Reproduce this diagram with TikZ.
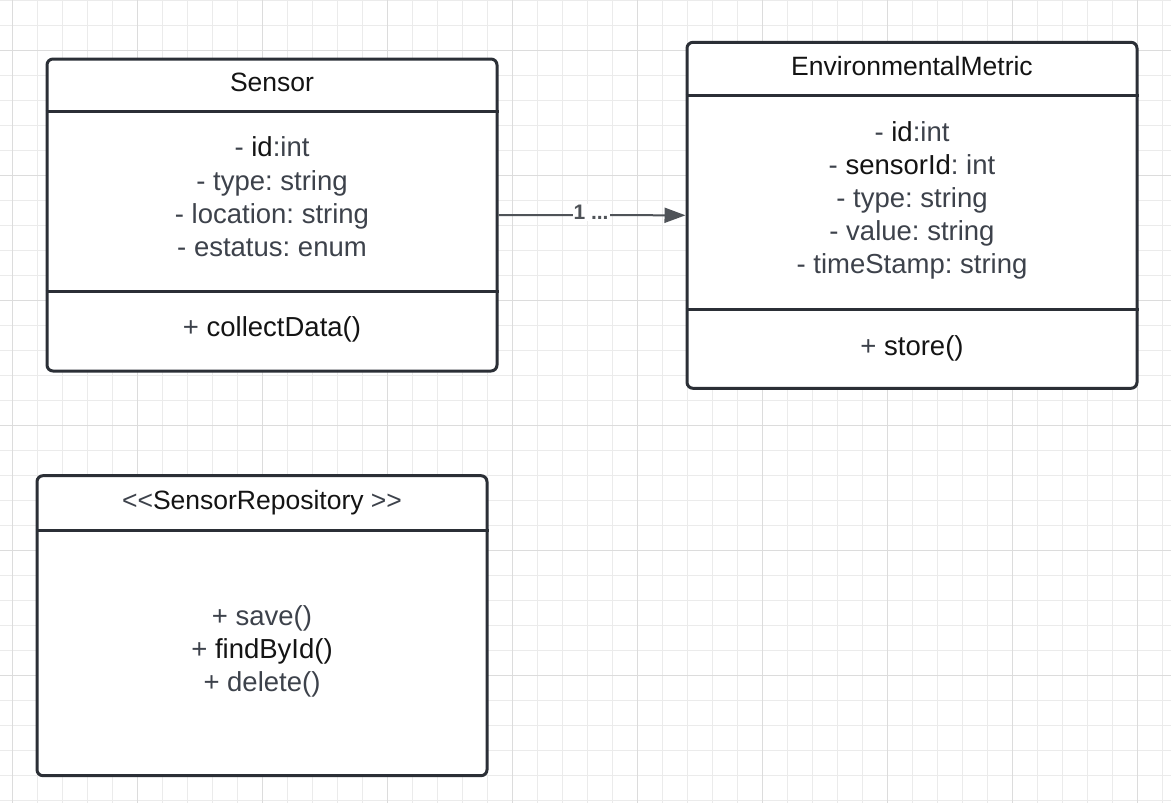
\documentclass[tikz,border=0pt]{standalone}
\usepackage{fontspec}
\setmainfont{Liberation Sans}
\usetikzlibrary{arrows.meta}
\definecolor{gridminor}{HTML}{EBEBEB}
\definecolor{gridmajor}{HTML}{DCDCDC}
\definecolor{umlborder}{HTML}{2B2F36}
\definecolor{umltext}{HTML}{3D424B}
\definecolor{umldark}{HTML}{141414}
\definecolor{assocgray}{HTML}{4F5358}
\newcommand{\hi}[1]{\textcolor{umldark}{#1}}
\frenchspacing
\begin{document}
\begin{tikzpicture}[x=1pt,y=-1pt]
				\tikzstyle{umlbox}=[draw=umlborder,line width=3pt,fill=white,rounded corners=6pt,inner sep=0pt,minimum width=450pt]
				\tikzstyle{umlrule}=[draw=umlborder,line width=3pt]
				\tikzstyle{umltitle}=[anchor=base,inner sep=0pt,text=umldark,font=\fontsize{26.5}{32}\selectfont]
				\tikzstyle{umlmember}=[anchor=base,inner sep=0pt,text=umltext,font=\fontsize{27.5}{33}\selectfont]
				\tikzstyle{assoc}=[draw=assocgray,line width=2pt,-{Triangle[length=21pt,width=15pt]}]
				\useasboundingbox (0,0) rectangle (1171,803);
				\fill[white] (0,0) rectangle (1171,803);
				% grid
				\foreach \gx in {12,37,...,1162} \draw[gridminor,line width=1pt] (\gx,0) -- (\gx,803);
				\foreach \gy in {0,25,...,800} \draw[gridminor,line width=1pt] (0,\gy) -- (1171,\gy);
				\foreach \gx in {12,137,...,1137} \draw[gridmajor,line width=1pt] (\gx,0) -- (\gx,803);
				\foreach \gy in {50,175,...,675} \draw[gridmajor,line width=1pt] (0,\gy) -- (1171,\gy);
				
				\draw 
				node[umlbox,minimum height=312pt](sensor)at(272,215){}
				node[umlbox,minimum height=346pt](metric)at(912,215.3){}
				node[umlbox,minimum height=300pt](repo)at(262,625.7){};
				
				\draw[umlrule](sensor.west |- 0,111)--(sensor.east |- 0,111);
				\draw[umlrule](sensor.west |- 0,291)--(sensor.east |- 0,291);
				\draw[umlrule](metric.west |- 0,95)--(metric.east |- 0,95);
				\draw[umlrule](metric.west |- 0,309)--(metric.east |- 0,309);
				\draw[umlrule](repo.west |- 0,530)--(repo.east |- 0,530);
				
				\draw 
				node[umltitle](sensorTitle)at(272,91){Sensor}
				node[umltitle](metricTitle)at(912,75){EnvironmentalMetric}
				node[umltitle](repoTitle)at(262,509){\textcolor{umltext}{<{}<}SensorRepository \textcolor{umltext}{>{}>}};
				
				\foreach \t [count=\i] in {{- \hi{id}:int},{- type: string},{- location: string},{- estatus: enum}}
				\node[umlmember](sensorAttr\i)at(272,{156.7+33.3*(\i-1)}){\t};
				\node[umlmember](sensorOp)at(272,336.7){+ \hi{collectData()}};
				
				\foreach \t [count=\i] in {{- \hi{id}:int},{- \hi{sensorId}: int},{- type: string},{- value: string},{- timeStamp: string}}
				\node[umlmember](metricAttr\i)at(912,{141+33.1*(\i-1)}){\t};
				\node[umlmember](metricOp)at(912,355){+ \hi{store()}};
				
				\foreach \t [count=\i] in {{+ save()},{+ \hi{findById()}},{+ delete()}}
				\node[umlmember](repoOp\i)at(262,{625+33.3*(\i-1)}){\t};
				
				\draw[assoc](sensor.east)--(metric.west) node[pos=.495,fill=white,inner sep=1pt,yshift=2.5pt,text=assocgray,font=\bfseries\fontsize{21}{21}\selectfont](mult){1 ...};
\end{tikzpicture}
\end{document}
